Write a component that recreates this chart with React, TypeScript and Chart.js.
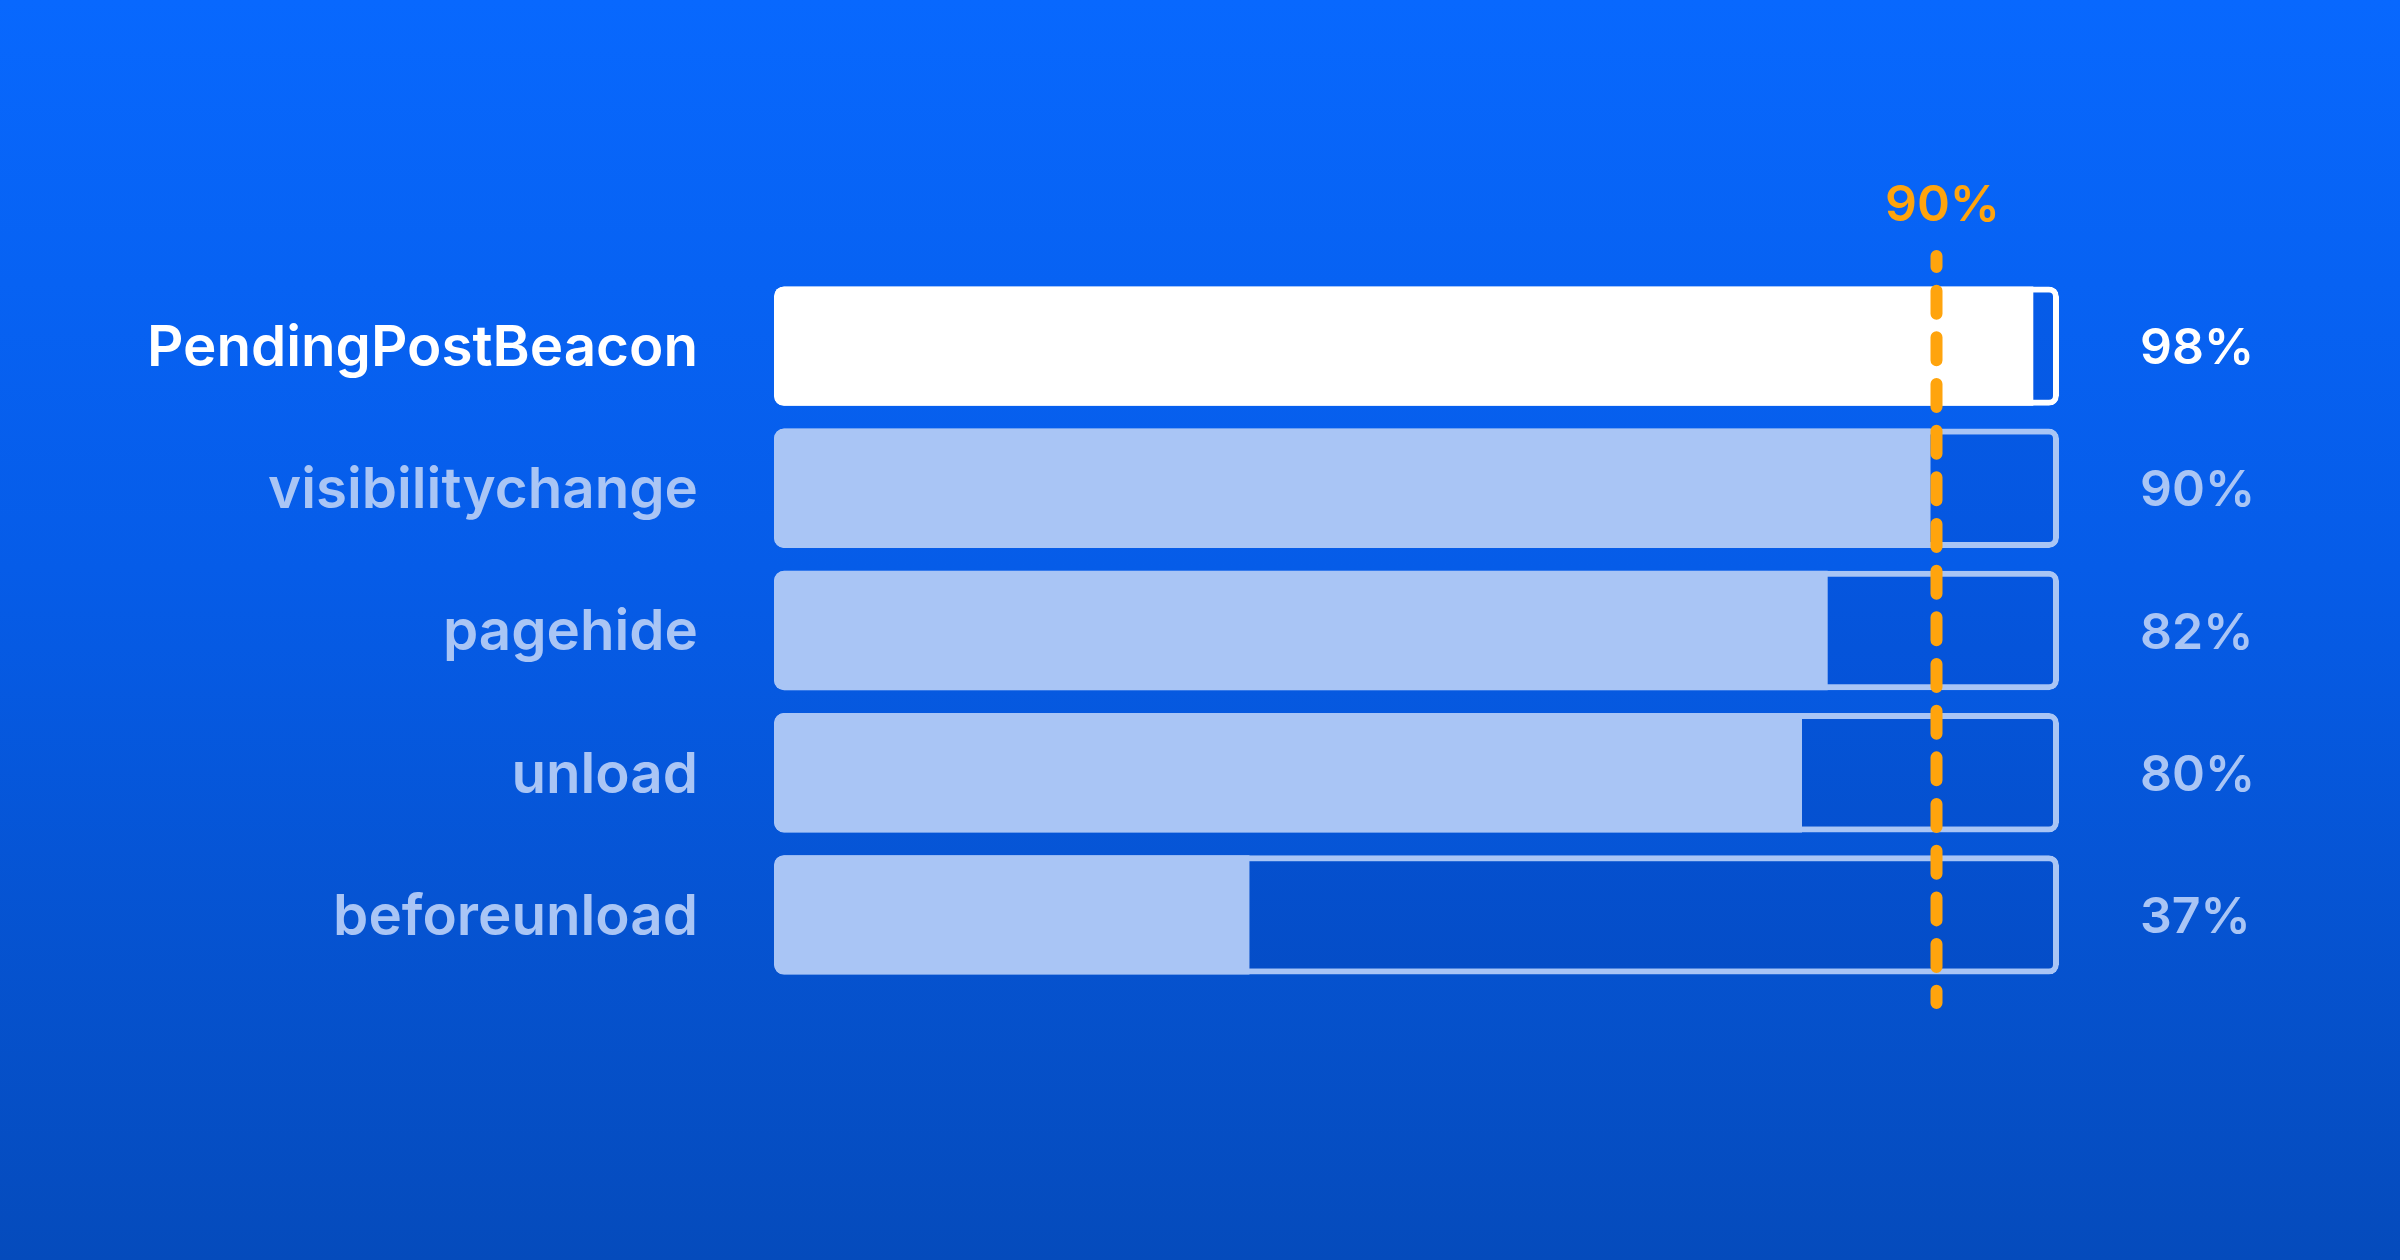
import React, { useEffect, useRef } from "react";
import { Chart, registerables } from "chart.js";

Chart.register(...registerables);

const categories = ["PendingPostBeacon", "visibilitychange", "pagehide", "unload", "beforeunload"];
const values = [98, 90, 82, 80, 37];
const trackMax = [100, 100, 100, 100, 100];
const threshold = 90;
const thresholdLabel = "90%";

const WHITE = "#FFFFFF";
const LIGHT = "#A9C5F5";
const ORANGE = "#FFA40D";
const FONT = "Inter, 'Open Sans', sans-serif";

const colorFor = (i: number) => (i === 0 ? WHITE : LIGHT);

const thresholdPlugin = {
  id: "thresholdLine",
  afterDatasetsDraw(chart: any) {
    const { ctx, chartArea, scales } = chart;
    const x = scales.x.getPixelForValue(threshold) + 6;
    ctx.save();
    ctx.strokeStyle = ORANGE;
    ctx.lineWidth = 12;
    ctx.lineCap = "round";
    ctx.setLineDash([23, 23.67]);
    ctx.lineDashOffset = 12;
    ctx.beginPath();
    ctx.moveTo(x, chartArea.top - 19);
    ctx.lineTo(x, chartArea.bottom + 17);
    ctx.stroke();
    ctx.setLineDash([]);
    ctx.fillStyle = ORANGE;
    ctx.font = `600 50px ${FONT}`;
    ctx.textAlign = "center";
    ctx.textBaseline = "middle";
    ctx.fillText(thresholdLabel, x + 6, chartArea.top - 69);
    ctx.restore();
  },
};

export default function App() {
  const canvasRef = useRef<HTMLCanvasElement | null>(null);

  useEffect(() => {
    document.body.style.margin = "0";
    const canvas = canvasRef.current;
    if (!canvas) return;
    const chart = new Chart(canvas, {
      type: "bar",
      data: {
        labels: categories,
        datasets: [
          {
            label: "value",
            data: values,
            backgroundColor: categories.map((_, i) => colorFor(i)),
            borderWidth: 0,
            borderRadius: { topLeft: 10, bottomLeft: 10, topRight: 0, bottomRight: 0 },
            borderSkipped: false,
            grouped: false,
            categoryPercentage: 1,
            barPercentage: 0.84,
            yAxisID: "y",
          },
          {
            label: "track",
            data: trackMax,
            backgroundColor: "rgba(2, 40, 150, 0.10)",
            borderColor: categories.map((_, i) => colorFor(i)),
            borderWidth: 6,
            borderRadius: 10,
            borderSkipped: false,
            grouped: false,
            categoryPercentage: 1,
            barPercentage: 0.84,
            yAxisID: "y",
          },
        ] as any,
      },
      options: {
        indexAxis: "y",
        animation: false,
        responsive: false,
        devicePixelRatio: 1,
        layout: { padding: { top: 275, bottom: 274, left: 0, right: 0 } },
        plugins: { legend: { display: false }, tooltip: { enabled: false } },
        scales: {
          x: { min: 0, max: 100, display: false },
          y: {
            position: "left",
            offset: true,
            grid: { display: false, drawTicks: false },
            border: { display: false },
            ticks: {
              padding: 76,
              labelOffset: 3,
              color: (c: any) => colorFor(c.index),
              font: { family: FONT, size: 56.5, weight: "600" },
            },
            afterFit: (s: any) => {
              s.width = 774;
            },
          },
          y2: {
            type: "category",
            labels: values.map((v) => `${v}%`),
            position: "right",
            offset: true,
            grid: { display: false, drawTicks: false },
            border: { display: false },
            ticks: {
              padding: 81,
              labelOffset: 3,
              color: (c: any) => colorFor(c.index),
              font: { family: FONT, size: 50, weight: "600" },
            },
            afterFit: (s: any) => {
              s.width = 341;
            },
          },
        } as any,
      },
      plugins: [thresholdPlugin],
    });
    return () => chart.destroy();
  }, []);

  return (
    <div
      style={{
        width: 2400,
        height: 1260,
        background: "linear-gradient(180deg, #0868FE 0%, #065CE8 45%, #054BBC 100%)",
        position: "relative",
      }}
    >
      <canvas ref={canvasRef} width={2400} height={1260} style={{ display: "block", width: 2400, height: 1260 }} />
    </div>
  );
}
